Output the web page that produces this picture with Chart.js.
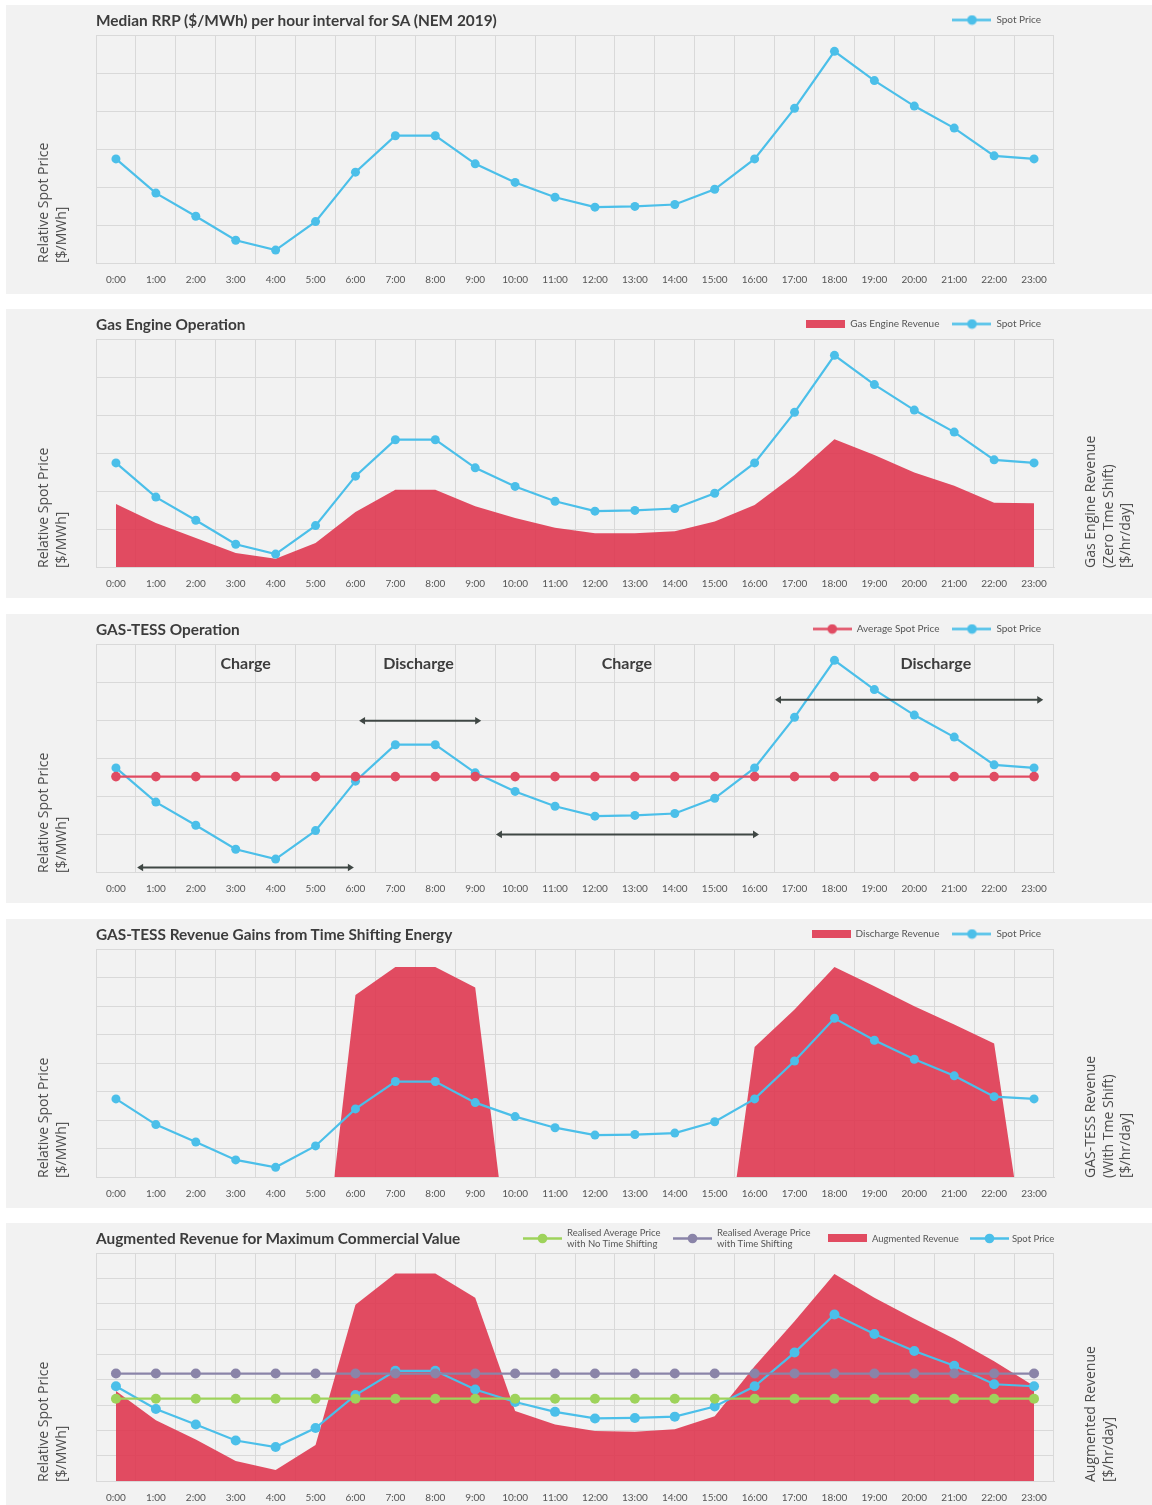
<!DOCTYPE html>
<html><head><meta charset="utf-8">
<script src="https://cdn.jsdelivr.net/npm/chart.js@4/dist/chart.umd.min.js"></script>
<style>
html,body{margin:0;padding:0;overflow:hidden;background:#fff;width:1152px;height:1505px;}
#page{position:relative;width:1152px;height:1505px;overflow:hidden;}
.panel{position:absolute;left:6px;width:1146px;height:289px;background:#f2f2f2;}
.panel canvas.chart{position:absolute;left:0;top:0;}
.title{position:absolute;left:90px;top:6px;font:700 15.4px Lato;line-height:18px;color:#3c3c3c;white-space:nowrap;}
.axt{position:absolute;transform:rotate(-90deg);transform-origin:0 0;font:400 14px "Open Sans";color:#4d4d4d;line-height:17.5px;white-space:pre;}
.lgs{position:absolute;}
.lgt{position:absolute;font:400 9.5px Lato;color:#555;line-height:11px;white-space:pre;}
</style>
</head><body><div id="page"></div>
<script>
// ---------------- data ----------------
const hours = ['0:00','1:00','2:00','3:00','4:00','5:00','6:00','7:00','8:00','9:00','10:00','11:00',
  '12:00','13:00','14:00','15:00','16:00','17:00','18:00','19:00','20:00','21:00','22:00','23:00'];
// relative spot price (grid units)
const spotPrice = [2.74,1.84,1.23,0.60,0.34,1.09,2.39,3.35,3.35,2.61,2.12,1.73,
  1.47,1.49,1.54,1.94,2.74,4.07,5.57,4.80,4.13,3.55,2.82,2.74];
const gasEngineRevenue = [1.66,1.16,0.76,0.37,0.22,0.63,1.45,2.03,2.03,1.60,1.29,1.03,
  0.89,0.89,0.94,1.20,1.63,2.42,3.36,2.95,2.49,2.14,1.69,1.68];
const averageSpotPrice = [2.51,2.51,2.51,2.51,2.51,2.51,2.51,2.51,2.51,2.51,2.51,2.51,
  2.51,2.51,2.51,2.51,2.51,2.51,2.51,2.51,2.51,2.51,2.51,2.51];
const dischargeHour = [5.47,6,7,8,9,9.59,15.55,16,17,18,19,20,21,22,22.5];
const dischargeRevenue = [0,6.39,7.37,7.37,6.65,0,0,4.56,5.88,7.37,6.69,5.99,5.35,4.68,0];
const realisedNoShift = [2.25,2.25,2.25,2.25,2.25,2.25,2.25,2.25,2.25,2.25,2.25,2.25,
  2.25,2.25,2.25,2.25,2.25,2.25,2.25,2.25,2.25,2.25,2.25,2.25];
const realisedWithShift = [3.24,3.24,3.24,3.24,3.24,3.24,3.24,3.24,3.24,3.24,3.24,3.24,
  3.24,3.24,3.24,3.24,3.24,3.24,3.24,3.24,3.24,3.24,3.24,3.24];
const augmentedRevenue = [3.55,2.40,1.64,0.79,0.43,1.42,6.96,8.19,8.19,7.23,2.76,2.23,
  1.97,1.94,2.04,2.56,4.53,6.31,8.17,7.23,6.40,5.62,4.73,3.75];
const phaseLabels = ['Charge','Discharge','Charge','Discharge'];
const phaseLabelHour = [3.25,7.58,12.8,20.54];
const phaseLabelLevel = [5.48,5.48,5.48,5.48];
const arrowFromHour = [0.53,6.09,9.52,16.51];
const arrowToHour = [5.96,9.15,16.11,23.23];
const arrowLevel = [0.12,3.98,0.99,4.53];

// ---------------- styles ----------------
const BLUE='#4bbfe9', RED_LINE='#e04b62', RED_FILL='rgba(222,51,76,0.88)', GREEN='#9ed35b', PURPLE='#8a84a8', GRID='#d9d9d9', ARROW='#3f4744';
Chart.defaults.font.family = 'Lato';
Chart.defaults.color = '#555';

function lineSymbol(color, r){
  const c=document.createElement('canvas'); c.width=39; c.height=11;
  const x=c.getContext('2d'); x.strokeStyle=color; x.lineWidth=2.5;
  x.beginPath(); x.moveTo(0,5.5); x.lineTo(39,5.5); x.stroke();
  x.fillStyle=color; x.beginPath(); x.arc(19.5,5.5,r,0,Math.PI*2); x.fill(); return c;
}
function rectSymbol(color){
  const c=document.createElement('canvas'); c.width=39; c.height=8;
  const x=c.getContext('2d'); x.fillStyle=color; x.fillRect(0,0,39,8); return c;
}

const page=document.getElementById('page');
function div(parent, cls, text, css){ const d=document.createElement('div'); d.className=cls; d.textContent=text; Object.assign(d.style, css||{}); parent.appendChild(d); return d; }

function lineDs(label, data, color, r, order, yAxisID){
  return {label, data, borderColor:color, backgroundColor:color, borderWidth:2.2, pointRadius:r, pointHoverRadius:r,
    pointBorderWidth:0, pointBackgroundColor:color, tension:0, fill:false, order, yAxisID:yAxisID||'y',
    legendSymbol: lineSymbol(color, 4.8)};
}
function areaDs(label, data, order, opts){
  return Object.assign({label, data, borderWidth:0, borderColor:'rgba(0,0,0,0)', backgroundColor:RED_FILL, pointRadius:0, pointHoverRadius:0,
    tension:0, fill:'origin', order, yAxisID:'y2', legendSymbol: rectSymbol(RED_FILL)}, opts||{});
}

function makeOptions(yMin, yMax, y2Max, showLegend){
  const scales = {
    x:{type:'category', offset:true, grid:{offset:true, color:GRID, drawTicks:false, lineWidth:1},
       border:{display:true, color:GRID}, ticks:{color:'#555', font:{size:10}, padding:11, maxRotation:0, minRotation:0, autoSkip:false},
       afterFit(s){ s.height=31; }},
    y:{type:'linear', min:yMin, max:yMax, ticks:{display:false, stepSize:1}, grid:{color:GRID, drawTicks:false},
       border:{display:false}, afterFit(s){ s.width=0; }},
    xh:{type:'linear', display:false, min:-0.5, max:23.5},
  };
  if (y2Max) scales.y2 = {type:'linear', display:false, min:0, max:y2Max, position:'right'};
  return {
    responsive:false, animation:false, devicePixelRatio:1, events:[],
    layout:{padding:{left:90, right:98, top:showLegend ? -3 : 30, bottom:0}},
    scales,
    plugins:{
      tooltip:{enabled:false},
      legend:{display:showLegend, position:'top', align:'end',
        labels:{usePointStyle:true, pointStyleWidth:39, padding:13, color:'#555', font:{size:10},
          sort:(a,b)=>a.datasetIndex-b.datasetIndex,
          generateLabels(chart){
            const items = Chart.defaults.plugins.legend.labels.generateLabels(chart);
            items.forEach(it=>{ it.pointStyle = chart.data.datasets[it.datasetIndex].legendSymbol; it.fontColor='#555'; });
            return items;
          }}}
    }
  };
}

const phasePlugin = {
  id:'phases',
  afterDatasetsDraw(chart){
    const xs=chart.scales.x, ys=chart.scales.y, ctx=chart.ctx;
    ctx.save();
    ctx.strokeStyle=ARROW; ctx.fillStyle=ARROW; ctx.lineWidth=2;
    for(let i=0;i<arrowLevel.length;i++){
      const x1=xs.getPixelForValue(arrowFromHour[i]), x2=xs.getPixelForValue(arrowToHour[i]), y=ys.getPixelForValue(arrowLevel[i]);
      const h=6, w=3.8;
      ctx.beginPath(); ctx.moveTo(x1+h-1,y); ctx.lineTo(x2-h+1,y); ctx.stroke();
      ctx.beginPath(); ctx.moveTo(x1,y); ctx.lineTo(x1+h,y-w); ctx.lineTo(x1+h,y+w); ctx.closePath(); ctx.fill();
      ctx.beginPath(); ctx.moveTo(x2,y); ctx.lineTo(x2-h,y-w); ctx.lineTo(x2-h,y+w); ctx.closePath(); ctx.fill();
    }
    ctx.fillStyle='#3d3d3d'; ctx.font='700 16px Lato'; ctx.textAlign='center'; ctx.textBaseline='middle';
    for(let i=0;i<phaseLabels.length;i++){
      ctx.fillText(phaseLabels[i], xs.getPixelForValue(phaseLabelHour[i]), ys.getPixelForValue(phaseLabelLevel[i]));
    }
    ctx.restore();
  }
};

function buildPanel(top, title, rightTitle, config){
  const panel=document.createElement('div'); panel.className='panel'; panel.style.top=top+'px'; page.appendChild(panel);
  const cv=document.createElement('canvas'); cv.className='chart'; cv.width=1146; cv.height=289; panel.appendChild(cv);
  div(panel,'title',title);
  div(panel,'axt','Relative Spot Price\n[$/MWh]',{left:'27.5px', top:'258.4px'});
  if(rightTitle) div(panel,'axt',rightTitle,{left:'1074.5px', top:'258.4px'});
  new Chart(cv, config);
  return panel;
}

// Panel 1
buildPanel(5,'Median RRP ($/MWh) per hour interval for SA (NEM 2019)',null,{
  type:'line', data:{labels:hours, datasets:[lineDs('Spot Price', spotPrice, BLUE, 4.5, 1)]},
  options:makeOptions(0,6,null,true)});

// Panel 2
buildPanel(309.3,'Gas Engine Operation','Gas Engine Revenue\n(Zero Tme Shift)\n[$/hr/day]',{
  type:'line', data:{labels:hours, datasets:[
    areaDs('Gas Engine Revenue', gasEngineRevenue, 3),
    lineDs('Spot Price', spotPrice, BLUE, 4.5, 1)]},
  options:makeOptions(0,6,6,true)});

// Panel 3
buildPanel(614.3,'GAS-TESS Operation',null,{
  type:'line', data:{labels:hours, datasets:[
    lineDs('Average Spot Price', averageSpotPrice, RED_LINE, 4.8, 1),
    lineDs('Spot Price', spotPrice, BLUE, 4.5, 2)]},
  options:makeOptions(0,6,null,true), plugins:[phasePlugin]});

// Panel 4
buildPanel(919.3,'GAS-TESS Revenue Gains from Time Shifting Energy','GAS-TESS Revenue\n(With Tme Shift)\n[$/hr/day]',{
  type:'line', data:{labels:hours, datasets:[
    areaDs('Discharge Revenue', dischargeHour.map((h,i)=>({x:h, y:dischargeRevenue[i]})), 3, {xAxisID:'xh'}),
    lineDs('Spot Price', spotPrice, BLUE, 4.5, 1)]},
  options:makeOptions(0,8,8,true)});

// Panel 5
const p5 = buildPanel(1223.3,'Augmented Revenue for Maximum Commercial Value','Augmented Revenue\n[$/hr/day]',{
  type:'line', data:{labels:hours, datasets:[
    lineDs('Realised Average Price with No Time Shifting', realisedNoShift, GREEN, 5, 1),
    lineDs('Realised Average Price with Time Shifting', realisedWithShift, PURPLE, 5, 2),
    areaDs('Augmented Revenue', augmentedRevenue, 4),
    lineDs('Spot Price', spotPrice, BLUE, 5, 3)]},
  options:makeOptions(-1,8,9,false)});

// Panel 5 legend (two-line labels)
function lgSym(el, left, top){ el.className='lgs'; el.style.left=left+'px'; el.style.top=top+'px'; p5.appendChild(el); }
lgSym(lineSymbol(GREEN,4.8), 517, 9.5);
div(p5,'lgt','Realised Average Price\nwith No Time Shifting',{left:'561px', top:'4px'});
lgSym(lineSymbol(PURPLE,4.8), 667, 9.5);
div(p5,'lgt','Realised Average Price\nwith Time Shifting',{left:'711px', top:'4px'});
lgSym(rectSymbol(RED_FILL), 822, 11);
div(p5,'lgt','Augmented Revenue',{left:'866px', top:'9.5px'});
lgSym(lineSymbol(BLUE,4.8), 964, 9.5);
div(p5,'lgt','Spot Price',{left:'1006px', top:'9.5px'});
</script>
</body></html>
